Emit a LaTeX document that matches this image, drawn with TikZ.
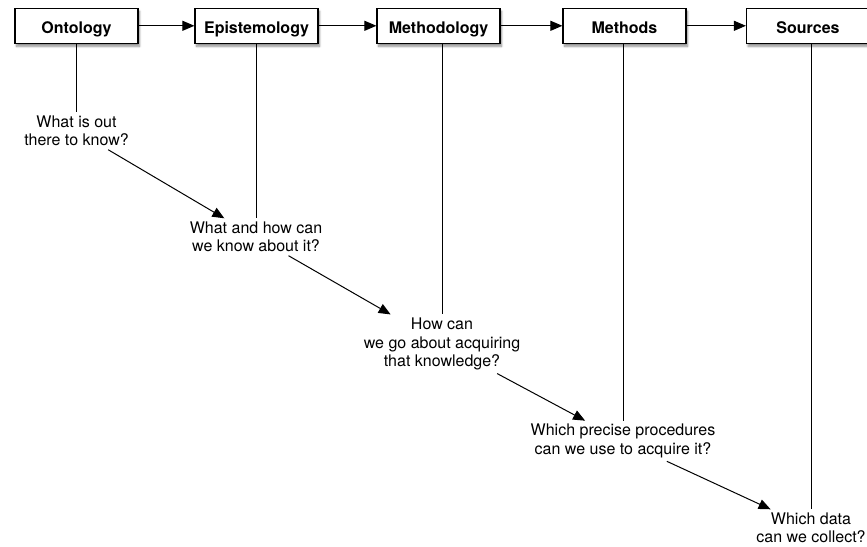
\documentclass[tikz,border=0pt]{standalone}
\usepackage{fontspec}
\setmainfont{TeX Gyre Heros}
\usetikzlibrary{arrows.meta,shadows.blur}
\tikzset{
  stage/.style={draw, line width=1.2pt, fill=white, minimum width=123pt, minimum height=35pt, inner sep=0pt,
    text height=16pt, text depth=1pt, font=\fontsize{16}{18.5}\selectfont\bfseries,
    blur shadow={shadow xshift=1.5pt, shadow yshift=-3pt, shadow blur steps=6, shadow opacity=45}},
  question/.style={align=center, inner sep=3pt, font=\fontsize{16}{18.5}\selectfont}
}
\begin{document}
\begin{tikzpicture}[x=1pt, y=-1pt, line width=1pt, >={Triangle[length=12pt,width=10pt]}]
\useasboundingbox (0,0) rectangle (867,546);
\node[stage] (ontology) at (76.5,25.8){Ontology};
\node[stage] (epistemology) at (256.5,25.8){Epistemology};
\node[stage] (methodology) at (438.5,25.8){Methodology};
\node[stage] (methods) at (624.5,25.8){Methods};
\node[stage] (sources) at (808,25.8){Sources};
\draw[->](ontology) -- (epistemology);
\draw[->](epistemology) -- (methodology);
\draw[->](methodology) -- (methods);
\draw[->](methods) -- (sources);
\node[question] (q1) at (76.5,131){What is out\\there to know?};
\node[question] (q2) at (256,237){What and how can\\we know about it?};
\node[question] (q3) at (442,344){How can\\we go about acquiring\\that knowledge?};
\node[question] (q4) at (623,441){Which precise procedures\\can we use to acquire it?};
\node[question] (q5) at (811,528){Which data\\can we collect?};
\draw[](q1.north |- ontology.south) -- (q1.north);
\draw[](q2.north |- epistemology.south) -- (q2.north);
\draw[](q3.north |- methodology.south) -- (q3.north);
\draw[](q4.north |- methods.south) -- (q4.north);
\draw[](q5.north |- sources.south) -- (q5.north);
\draw[->](q1) -- (q2);
\draw[->](q2) -- (q3);
\draw[->](q3) -- (q4);
\draw[->](q4) -- (q5);
\end{tikzpicture}
\end{document}
